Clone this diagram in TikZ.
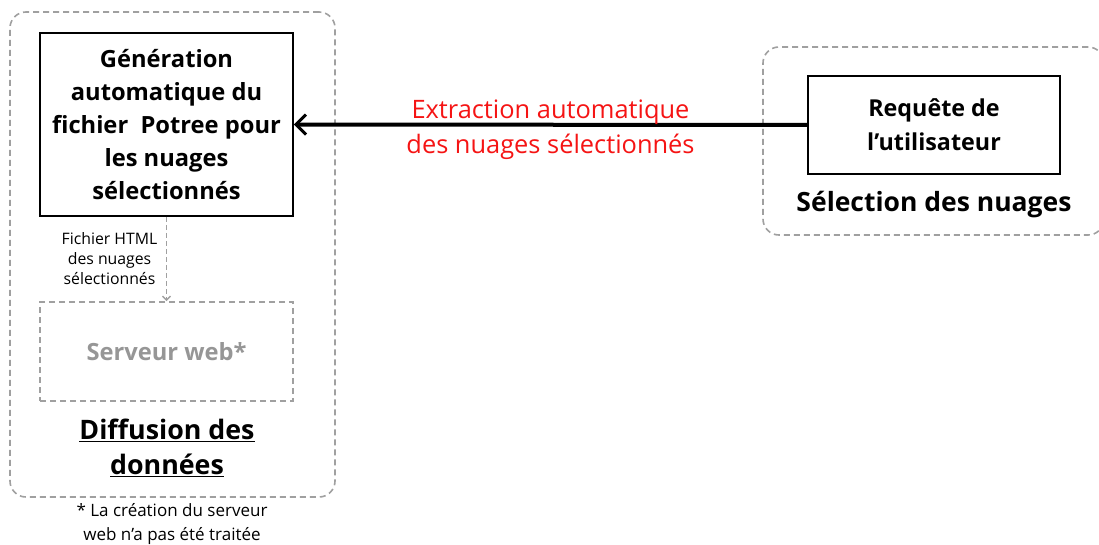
\documentclass[tikz,border=0pt]{standalone}
\usepackage{fontspec}
\setmainfont{Open Sans}
\usepackage{tikz}
\usetikzlibrary{arrows.meta}

\definecolor{dashgray}{RGB}{160,160,160}
\definecolor{txtgray}{RGB}{150,150,150}
\definecolor{lblred}{RGB}{245,20,20}

\tikzset{
  group/.style={draw=dashgray, line width=1.6pt, dash pattern=on 6pt off 4pt, rounded corners=16pt},
  procbox/.style={draw, line width=1.8pt, align=center, font=\fontsize{23.7}{33}\selectfont\bfseries},
  webbox/.style={draw=dashgray, line width=1.6pt, dash pattern=on 6pt off 4pt, text=txtgray, font=\fontsize{23.7}{31}\selectfont\bfseries},
}

\begin{document}
\begin{tikzpicture}[x=1pt, y=-1pt]
\useasboundingbox (0,0) rectangle (1099,545);
\node[group, minimum width=325pt, minimum height=485pt] (diff) at (172.5,254.5) {};
\node[group, minimum width=341pt, minimum height=188pt] (sel) at (933.5,141) {};
\node[procbox, minimum width=253pt, minimum height=183pt] (gen) at (166.5,124.5) {Génération\\automatique du\\fichier~ Potree pour\\les nuages\\sélectionnés};
\node[procbox, minimum width=252pt, minimum height=98pt, font=\fontsize{23.3}{34}\selectfont\bfseries] (req) at (934,125) {Requête de\\l’utilisateur};
\node[webbox, minimum width=253pt, minimum height=99pt] (web) at (166.5,351.5) {Serveur web*};
\node[align=center, font=\fontsize{26.8}{35}\selectfont\bfseries] (difftitle) at (167,448) {\underline{Diffusion des}\\\underline{données}};
\node[font=\fontsize{26.5}{30}\selectfont\bfseries] (seltitle) at (934,205) {Sélection des nuages};
\node[align=center, font=\fontsize{17}{24}\selectfont] (note) at (172,524) {* La création du serveur\\web n’a pas été traitée};
\draw[line width=4pt, -{Straight Barb[length=10pt, width=20pt, line width=3pt]}] (req) -- node[yshift=-5pt, text=lblred, align=center, font=\fontsize{25.4}{35}\selectfont] {Extraction automatique\\des nuages sélectionnés} (gen);
\draw[dashgray, line width=1.6pt, dash pattern=on 5pt off 3pt, -{Straight Barb[length=4pt, width=8pt, line width=1.4pt]}] (gen) -- node[left=5pt, text=black, align=center, font=\fontsize{15.8}{20}\selectfont] {Fichier HTML\\des nuages\\sélectionnés} (web);
\end{tikzpicture}
\end{document}
